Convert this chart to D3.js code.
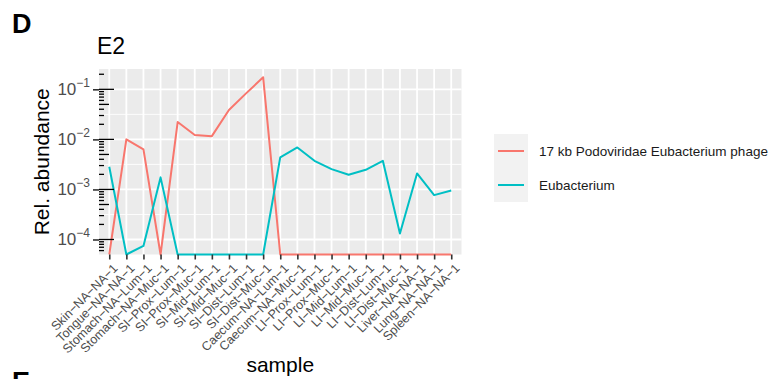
<!DOCTYPE html>
<html>
<head>
<meta charset="utf-8">
<script src="https://cdn.jsdelivr.net/npm/d3@7"></script>
<style>
  body { margin: 0; background: #fff; }
  text { font-family: "Liberation Sans", Arial, sans-serif; }
</style>
</head>
<body>
<div id="chart"></div>
<script>
// samples along the x axis
var samples = ["Skin−NA−NA−1", "Tongue−NA−NA−1", "Stomach−NA−Lum−1", "Stomach−NA−Muc−1",
  "SI−Prox−Lum−1", "SI−Prox−Muc−1", "SI−Mid−Lum−1", "SI−Mid−Muc−1", "SI−Dist−Lum−1",
  "SI−Dist−Muc−1", "Caecum−NA−Lum−1", "Caecum−NA−Muc−1", "LI−Prox−Lum−1", "LI−Prox−Muc−1",
  "LI−Mid−Lum−1", "LI−Mid−Muc−1", "LI−Dist−Lum−1", "LI−Dist−Muc−1", "Liver−NA−NA−1",
  "Lung−NA−NA−1", "Spleen−NA−NA−1"];

// relative abundances (0 = not detected, drawn at the lower limit)
var phage = [0, 0.0100, 0.0063, 0, 0.0222, 0.0122, 0.0116, 0.0386, 0.083, 0.174,
  0, 0, 0, 0, 0, 0, 0, 0, 0, 0, 0];
var eubacterium = [0.00283, 0, 0.0000745, 0.00174, 0, 0, 0, 0, 0, 0,
  0.00437, 0.0069, 0.00373, 0.00255, 0.00196, 0.00247, 0.00373, 0.000132, 0.00209, 0.000769, 0.000955];

var seriesNames = ["17 kb Podoviridae Eubacterium phage", "Eubacterium"];
var seriesColors = ["#F8766D", "#00BFC4"];
var decades = [1e-4, 1e-3, 1e-2, 1e-1];
var decadeLabels = ["−4", "−3", "−2", "−1"];
var minorBreaks = [Math.pow(10, -3.5), Math.pow(10, -2.5), Math.pow(10, -1.5)];

var W = 773, H = 379;
var panel = {left: 99, right: 461.5, top: 69, bottom: 254.5};

var svg = d3.select("#chart").append("svg")
  .attr("width", W).attr("height", H);

var x = d3.scalePoint()
  .domain(samples)
  .range([panel.left, panel.right])
  .padding(0.6);

var yMin = Math.pow(10, -4.3);
var y = d3.scaleLog()
  .domain([yMin, Math.pow(10, -0.594)])
  .range([panel.bottom, panel.top]);

// panel background
svg.append("rect")
  .attr("x", panel.left).attr("y", panel.top)
  .attr("width", panel.right - panel.left)
  .attr("height", panel.bottom - panel.top)
  .attr("fill", "#EBEBEB");

// grid
svg.selectAll(".minor").data(minorBreaks).enter().append("line")
  .attr("x1", panel.left).attr("x2", panel.right)
  .attr("y1", function(d) { return y(d); }).attr("y2", function(d) { return y(d); })
  .attr("stroke", "#fff").attr("stroke-width", 0.9);
svg.selectAll(".majorY").data(decades).enter().append("line")
  .attr("x1", panel.left).attr("x2", panel.right)
  .attr("y1", function(d) { return y(d); }).attr("y2", function(d) { return y(d); })
  .attr("stroke", "#fff").attr("stroke-width", 1.8);
svg.selectAll(".majorX").data(samples).enter().append("line")
  .attr("y1", panel.top).attr("y2", panel.bottom)
  .attr("x1", function(d) { return x(d); }).attr("x2", function(d) { return x(d); })
  .attr("stroke", "#fff").attr("stroke-width", 1.8);

// lines
var line = d3.line()
  .x(function(d, i) { return x(samples[i]); })
  .y(function(d) { return y(Math.max(d, yMin)); });

[phage, eubacterium].forEach(function(vals, k) {
  svg.append("path")
    .datum(vals)
    .attr("d", line)
    .attr("fill", "none")
    .attr("stroke", seriesColors[k])
    .attr("stroke-width", 2)
    .attr("stroke-linejoin", "round");
});

// y axis ticks + labels
svg.append("g")
  .attr("transform", "translate(" + panel.left + ",0)")
  .call(d3.axisLeft(y).tickValues(decades).tickFormat("").tickSizeOuter(0).tickSize(6))
  .call(function(g) { g.select(".domain").remove(); })
  .selectAll("line").attr("stroke", "#333").attr("stroke-width", 1.6);

decades.forEach(function(d, i) {
  var t = svg.append("text")
    .attr("x", 90).attr("y", y(d) + 6)
    .attr("text-anchor", "end")
    .attr("fill", "#4D4D4D")
    .style("font-size", "17px");
  t.append("tspan").text("10");
  t.append("tspan").attr("dy", -8).style("font-size", "12px").text(decadeLabels[i]);
});

// log ticks inside the panel
var logTicks = [];
for (var e = -5; e <= 0; e++) {
  for (var m = 1; m <= 9; m++) {
    var v = m * Math.pow(10, e);
    if (v >= yMin && v <= y.domain()[1]) logTicks.push({v: v, m: m});
  }
}
svg.selectAll(".logtick").data(logTicks).enter().append("line")
  .attr("x1", panel.left)
  .attr("x2", function(d) { return panel.left + (d.m == 1 ? 15 : d.m == 5 ? 10 : 5); })
  .attr("y1", function(d) { return y(d.v); }).attr("y2", function(d) { return y(d.v); })
  .attr("stroke", "#000").attr("stroke-width", 1.3);

// x axis
var xAxis = svg.append("g")
  .attr("transform", "translate(0," + panel.bottom + ")")
  .call(d3.axisBottom(x).tickSize(5).tickSizeOuter(0));
xAxis.select(".domain").remove();
xAxis.selectAll("line").attr("stroke", "#333").attr("stroke-width", 1.6);
xAxis.selectAll("text")
  .attr("y", 0).attr("x", 0).attr("dy", 0)
  .attr("transform", "translate(2,8)rotate(-45)")
  .attr("dy", "0.75em")
  .style("text-anchor", "end")
  .style("font-size", "12.5px")
  .style("font-family", "'Liberation Sans', Arial, sans-serif")
  .attr("fill", "#4D4D4D");

// titles
svg.append("text").attr("x", 12).attr("y", 33).text("D")
  .style("font-size", "27px").style("font-weight", "bold");
svg.append("text").attr("x", 12).attr("y", 391).text("E")
  .style("font-size", "27px").style("font-weight", "bold");
svg.append("text").attr("x", 97).attr("y", 54).text("E2")
  .style("font-size", "23px");
svg.append("text")
  .attr("x", (panel.left + panel.right) / 2).attr("y", 372)
  .attr("text-anchor", "middle").text("sample")
  .style("font-size", "21px");
svg.append("text")
  .attr("transform", "translate(49," + ((panel.top + panel.bottom) / 2) + ")rotate(-90)")
  .attr("text-anchor", "middle").text("Rel. abundance")
  .style("font-size", "21px");

// legend
var legend = svg.append("g").attr("transform", "translate(494,134)");
seriesNames.forEach(function(name, i) {
  var g = legend.append("g").attr("transform", "translate(0," + (i * 34) + ")");
  g.append("rect").attr("width", 34).attr("height", 34).attr("fill", "#F2F2F2");
  g.append("line").attr("x1", 4).attr("x2", 30).attr("y1", 17).attr("y2", 17)
    .attr("stroke", seriesColors[i]).attr("stroke-width", 2);
  g.append("text").attr("x", 45).attr("y", 17).attr("dy", "0.35em")
    .text(name).style("font-size", "13.5px").attr("fill", "#1a1a1a");
});
</script>
</body>
</html>
